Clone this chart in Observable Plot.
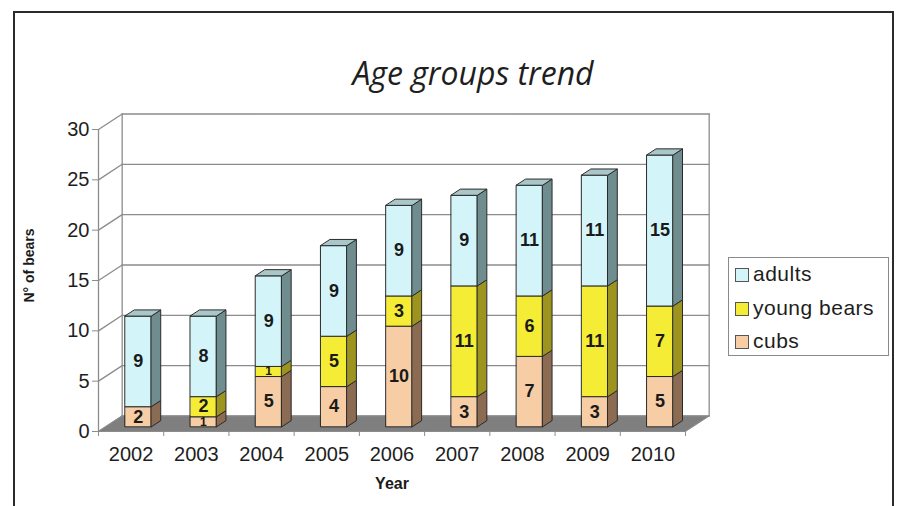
<!DOCTYPE html>
<html>
<head>
<meta charset="utf-8">
<script src="https://cdn.jsdelivr.net/npm/d3@7"></script>
<script src="https://cdn.jsdelivr.net/npm/@observablehq/plot@0.6"></script>
<style>
  html, body { margin: 0; padding: 0; background: #fff; }
  body { width: 901px; height: 506px; position: relative; overflow: hidden; font-family: "Liberation Sans", Arial, sans-serif; }
  #frame { position: absolute; left: 13px; top: 11px; width: 881px; height: 600px; border: 2.5px solid #2b2b2b; box-sizing: border-box; }
  #title { position: absolute; left: 0; width: 946px; top: 57px; text-align: center; font-family: "Open Sans", sans-serif; font-style: italic; font-size: 32px; line-height: 32px; color: #1e1e1e; }
  #chart { position: absolute; left: 0; top: 100px; }
  #legend { position: absolute; left: 728px; top: 257px; width: 161px; height: 99px; border: 1.5px solid #8a8a8a; box-sizing: border-box; background: #fff; }
  .item { position: absolute; left: 6px; font-size: 21px; color: #1e1e1e; letter-spacing: 0.5px; line-height: 21px; white-space: nowrap; }
  .sw { display: inline-block; width: 12px; height: 12px; border: 1.3px solid #555; vertical-align: -1px; margin-right: 4px; }
</style>
</head>
<body>
<div id="frame"></div>
<div id="title">Age groups trend</div>
<div id="chart"></div>
<div id="legend"></div>
<script>
// ---- data ----
const years = ["2002", "2003", "2004", "2005", "2006", "2007", "2008", "2009", "2010"];
const cubs = [2, 1, 5, 4, 10, 3, 7, 3, 5];
const youngBears = [0, 2, 1, 5, 3, 11, 6, 11, 7];
const adults = [9, 8, 9, 9, 9, 9, 11, 11, 15];
const seriesNames = ["cubs", "young bears", "adults"];
const yTicks = [0, 5, 10, 15, 20, 25, 30];

// ---- style ----
const frontColors = ["#f6cda4", "#f5ec36", "#d3f5fa"];
const sideColors = ["#8b6c53", "#9c941f", "#6f8d8f"];
const topColors = ["#c9a889", "#c9c22c", "#a9c7c9"];
const DX = 0.363;   // depth offset in x units (one category = 1)
const DY = 1.54;    // depth offset in y units
const HW = 0.2;     // half bar width
const F0 = 0.3, F1 = 0.7; // bar front / back depth fractions

const series = [cubs, youngBears, adults];

// ---- build geometry from data ----
const faces = [];
const labels = [];
let fid = 0;
function poly(pts, fill) {
  const id = fid++;
  for (const [x, y] of pts) faces.push({id, x, y, fill});
}
years.forEach((yr, i) => {
  const c = i + 0.5;
  const xl = c - HW, xr = c + HW;
  const fx = F0 * DX, fy = F0 * DY, bx = F1 * DX, by = F1 * DY;
  let base = 0;
  const total = series.reduce((s, a) => s + a[i], 0);
  series.forEach((arr, k) => {
    const v = arr[i];
    if (v <= 0) return;
    const y0 = base, y1 = base + v;
    poly([[xl + fx, y0 + fy], [xr + fx, y0 + fy], [xr + fx, y1 + fy], [xl + fx, y1 + fy]], frontColors[k]);
    poly([[xr + fx, y0 + fy], [xr + bx, y0 + by], [xr + bx, y1 + by], [xr + fx, y1 + fy]], sideColors[k]);
    if (y1 === total) {
      poly([[xl + fx, y1 + fy], [xr + fx, y1 + fy], [xr + bx, y1 + by], [xl + bx, y1 + by]], topColors[k]);
    }
    labels.push({x: c + fx, y: (y0 + y1) / 2 + fy, text: String(v), size: v < 2 ? 12 : 18});
    base = y1;
  });
});

const n = years.length;
const floor = [[0, 0], [n, 0], [n + DX, DY], [DX, DY]].map(([x, y]) => ({x, y}));
const wallLines = [];
yTicks.forEach((t, j) => {
  wallLines.push({id: "g" + j, x: DX, y: t + DY});
  wallLines.push({id: "g" + j, x: n + DX, y: t + DY});
  wallLines.push({id: "d" + j, x: 0, y: t});
  wallLines.push({id: "d" + j, x: DX, y: t + DY});
});
wallLines.push({id: "vl", x: DX, y: DY}, {id: "vl", x: DX, y: 30 + DY});
wallLines.push({id: "vr", x: n + DX, y: DY}, {id: "vr", x: n + DX, y: 30 + DY});

const centers = years.map((_, i) => i + 0.5);
const bounds = d3.range(n + 1);

const chart = Plot.plot({
  width: 901,
  height: 406,
  marginLeft: 98,
  marginRight: 216,
  marginTop: 29,
  marginBottom: 75,
  x: {domain: [0, n]},
  y: {domain: [0, 30]},
  color: {type: "identity"},
  style: {fontFamily: "'Liberation Sans', Arial, sans-serif", color: "#1e1e1e", background: "transparent", overflow: "visible"},
  marks: [
    Plot.line(wallLines, {x: "x", y: "y", z: "id", stroke: "#8c8c8c", strokeWidth: 1.3}),
    Plot.line(floor, {x: "x", y: "y", fill: "#7f7f7f", stroke: "#8c8c8c", strokeWidth: 1, curve: "linear-closed"}),
    Plot.ruleX([0], {y1: 0, y2: 30, stroke: "#8c8c8c", strokeWidth: 1.3}),
    Plot.axisY({ticks: yTicks, tickSize: 6, tickPadding: 3, fontSize: 20, stroke: "#8c8c8c", fill: "#1e1e1e", label: null}),
    Plot.axisX({ticks: bounds, tickSize: 5, tickFormat: () => "", stroke: "#8c8c8c", label: null}),
    Plot.axisX({ticks: centers, tickSize: 0, tickPadding: 15, tickFormat: d => years[Math.floor(d)], fontSize: 20, fill: "#1e1e1e", label: null}),
    Plot.line(faces, {x: "x", y: "y", z: "id", fill: "fill", stroke: "#2a2a2a", strokeWidth: 1, curve: "linear-closed"}),
    Plot.text(labels, {x: "x", y: "y", text: "text", fontSize: "size", fontWeight: "bold", fill: "#1a1a1a"}),
    Plot.text(["N° of bears"], {frameAnchor: "left", textAnchor: "middle", dx: -69, dy: -15, rotate: -90, fontSize: 14, fontWeight: "bold", fill: "#1a1a1a"}),
    Plot.text(["Year"], {frameAnchor: "bottom", dy: 57, lineAnchor: "bottom", fontSize: 16, fontWeight: "bold", fill: "#1a1a1a"})
  ]
});
document.getElementById("chart").appendChild(chart);

// ---- legend ----
const legend = document.getElementById("legend");
const order = [2, 1, 0];
order.forEach((k, r) => {
  const it = document.createElement("div");
  it.className = "item";
  it.style.top = (5 + r * 33.5) + "px";
  const sw = document.createElement("span");
  sw.className = "sw";
  sw.style.background = frontColors[k];
  it.appendChild(sw);
  it.appendChild(document.createTextNode(seriesNames[k]));
  legend.appendChild(it);
});
</script>
</body>
</html>
